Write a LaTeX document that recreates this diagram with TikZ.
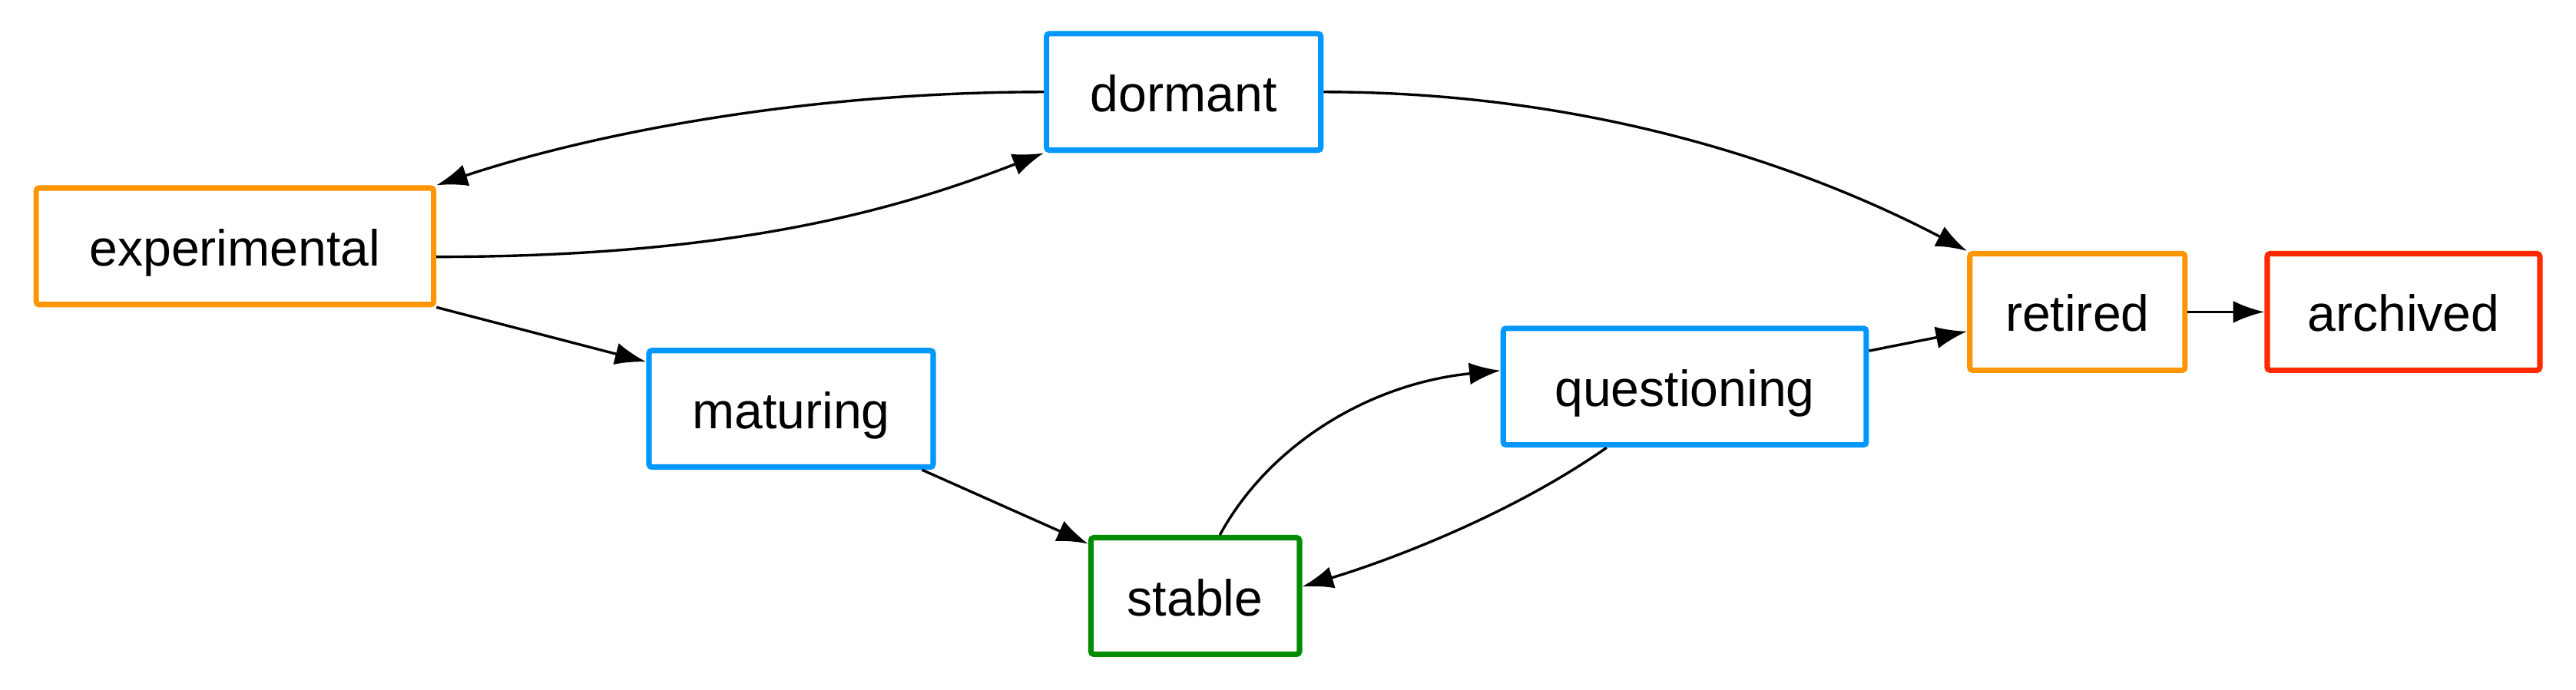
\documentclass[tikz,border=0pt]{standalone}
\usepackage{fontspec}
\setmainfont{Liberation Sans}
\usetikzlibrary{arrows.meta}

\definecolor{stOrange}{HTML}{FF9500}
\definecolor{stBlue}{HTML}{0098FF}
\definecolor{stGreen}{HTML}{008C00}
\definecolor{stRed}{HTML}{FF2A00}

\begin{document}
\begin{tikzpicture}[x=0.02cm, y=-0.02cm,
    state/.style={draw, line width=1.9pt, rounded corners=1pt, minimum height=1.42cm,
        font=\fontsize{17.6}{21}\selectfont, text height=13.6pt, text depth=0pt, inner sep=0pt},
    edge/.style={line width=0.9pt, -{Latex[length=0.38cm,width=0.27cm]}}]
    \useasboundingbox (0,0) rectangle (1568,420);

    \node[state, stOrange, text=black, minimum width=4.84cm] (experimental) at (143,150) {experimental};
    \node[state, stBlue, text=black, minimum width=3.34cm] (dormant) at (720.5,56) {dormant};
    \node[state, stBlue, text=black, minimum width=3.46cm] (maturing) at (481.5,249) {maturing};
    \node[state, stGreen, text=black, minimum width=2.54cm] (stable) at (727.5,363) {stable};
    \node[state, stBlue, text=black, minimum width=4.42cm] (questioning) at (1025.5,235.5) {questioning};
    \node[state, stOrange, text=black, minimum width=2.62cm] (retired) at (1264.5,190) {retired};
    \node[state, stRed, text=black, minimum width=3.32cm] (archived) at (1463,190) {archived};

    % curved transitions
    \draw[edge] (dormant.west) .. controls +(-150,0) and +(90,-30) .. (experimental.north east);
    \draw[edge] (experimental.-3) .. controls +(180,0) and +(-90,35) .. (dormant.south west);
    \draw[edge] (dormant.east) .. controls +(180,0) and +(-80,-42) .. (retired.north west);
    \draw[edge] (stable.68) .. controls +(30,-55) and +(-80,8) .. (questioning.175);
    \draw[edge] (questioning.218) .. controls +(-60,42) and +(50,-15) .. (stable.5);

    % straight transitions
    \draw[edge] (experimental.south east) -- (maturing.162);
    \draw[edge] (maturing.-25) -- (stable.154);
    \draw[edge] (questioning.11) -- (retired.190);
    \draw[edge] (retired.east) -- (archived.west);
\end{tikzpicture}
\end{document}
